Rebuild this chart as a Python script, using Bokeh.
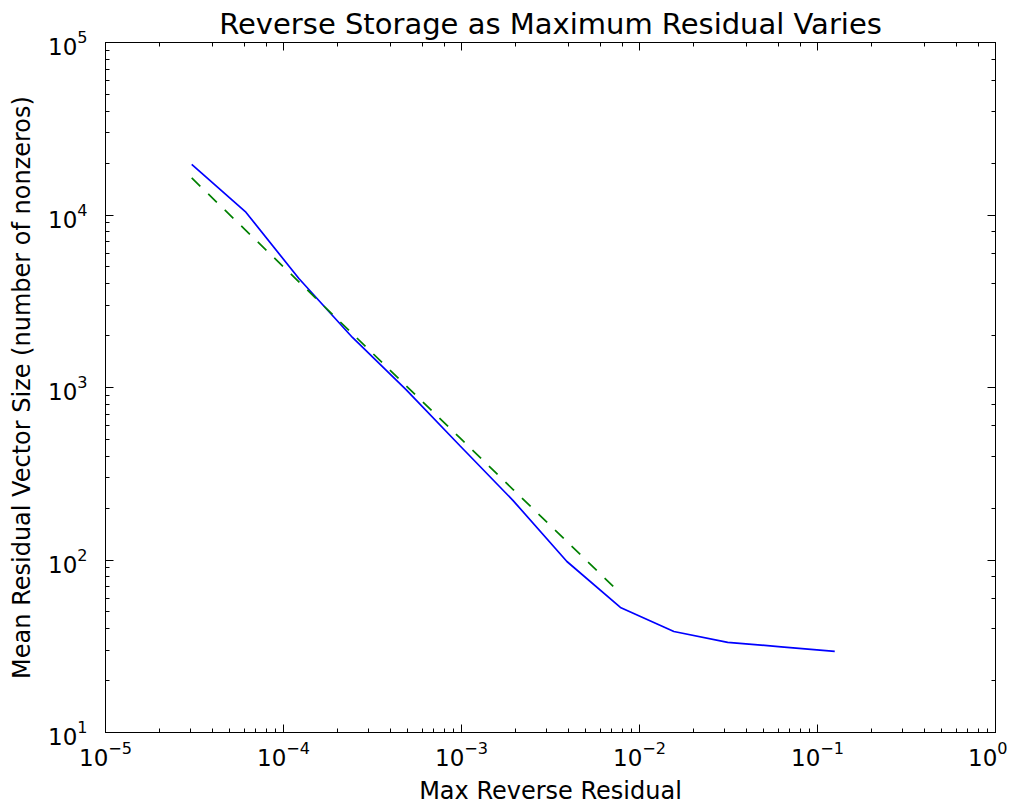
from bokeh.plotting import figure
from bokeh.models import LogAxis, Range1d, LogTicker, CustomJSTickFormatter
from bokeh.embed import file_html
from bokeh.resources import INLINE

# Data
max_residual = [3.05e-5, 6.10e-5, 1.22e-4, 2.44e-4, 4.88e-4, 9.77e-4, 1.95e-3,
                3.91e-3, 7.81e-3, 1.56e-2, 3.13e-2, 6.25e-2, 0.125]
mean_size = [19630, 10470, 4285, 1950, 973, 461, 221, 98, 53.1, 38.5, 33.3, 31.4, 29.5]

fit_x = [3.05e-5, 6.10e-5, 1.22e-4, 2.44e-4, 4.88e-4, 9.77e-4, 1.95e-3, 3.91e-3, 7.81e-3]
fit_y = [16400, 8200, 4100, 2050, 1025, 512, 256, 128, 64]

FONT = "DejaVu Sans"

p = figure(frame_width=890, frame_height=690,
           x_axis_type="log", y_axis_type="log",
           x_range=Range1d(1e-5, 1), y_range=Range1d(10, 1e5),
           output_backend="svg", toolbar_location=None,
           title="Reverse Storage as Maximum Residual Varies",
           min_border_left=105, min_border_right=12,
           min_border_top=42, min_border_bottom=10)

p.title.align = "center"
p.title.text_font = FONT
p.title.text_font_size = "29px"
p.title.text_font_style = "normal"
p.title.text_color = "black"
p.title.standoff = 4

p.xgrid.visible = False
p.ygrid.visible = False
p.outline_line_color = "black"
p.outline_line_width = 1

def style_axis(ax, show_labels=True):
    ax.axis_line_color = "black"
    ax.axis_line_width = 1
    ax.major_tick_in = 8
    ax.major_tick_out = 0
    ax.minor_tick_in = 4
    ax.minor_tick_out = 0
    ax.major_tick_line_color = "black"
    ax.minor_tick_line_color = "black"
    ax.major_label_text_font = FONT
    ax.major_label_text_color = "black"
    if show_labels:
        ax.major_label_text_font_size = "23px"
    else:
        ax.formatter = CustomJSTickFormatter(code="return ' ';")
        ax.major_label_text_font_size = "2px"
        ax.major_label_text_alpha = 0
        ax.major_label_standoff = 0

style_axis(p.xaxis[0])
style_axis(p.yaxis[0])
p.xaxis[0].axis_label = "Max Reverse Residual"
p.yaxis[0].axis_label = "Mean Residual Vector Size (number of nonzeros)"
for ax in (p.xaxis[0], p.yaxis[0]):
    ax.axis_label_text_font = FONT
    ax.axis_label_text_font_size = "24px"
    ax.axis_label_text_font_style = "normal"
    ax.axis_label_text_color = "black"
p.xaxis[0].major_label_standoff = 8
p.yaxis[0].major_label_standoff = 18
p.xaxis[0].axis_label_standoff = 8
p.yaxis[0].axis_label_standoff = 9

top = LogAxis(ticker=LogTicker())
right = LogAxis(ticker=LogTicker())
style_axis(top, False)
style_axis(right, False)
p.add_layout(top, "above")
p.add_layout(right, "right")

p.line(max_residual, mean_size, line_color="blue", line_width=1.7)
p.line(fit_x, fit_y, line_color="green", line_width=1.7, line_dash="12 11")

open("out.html", "w").write(file_html(p, INLINE))
